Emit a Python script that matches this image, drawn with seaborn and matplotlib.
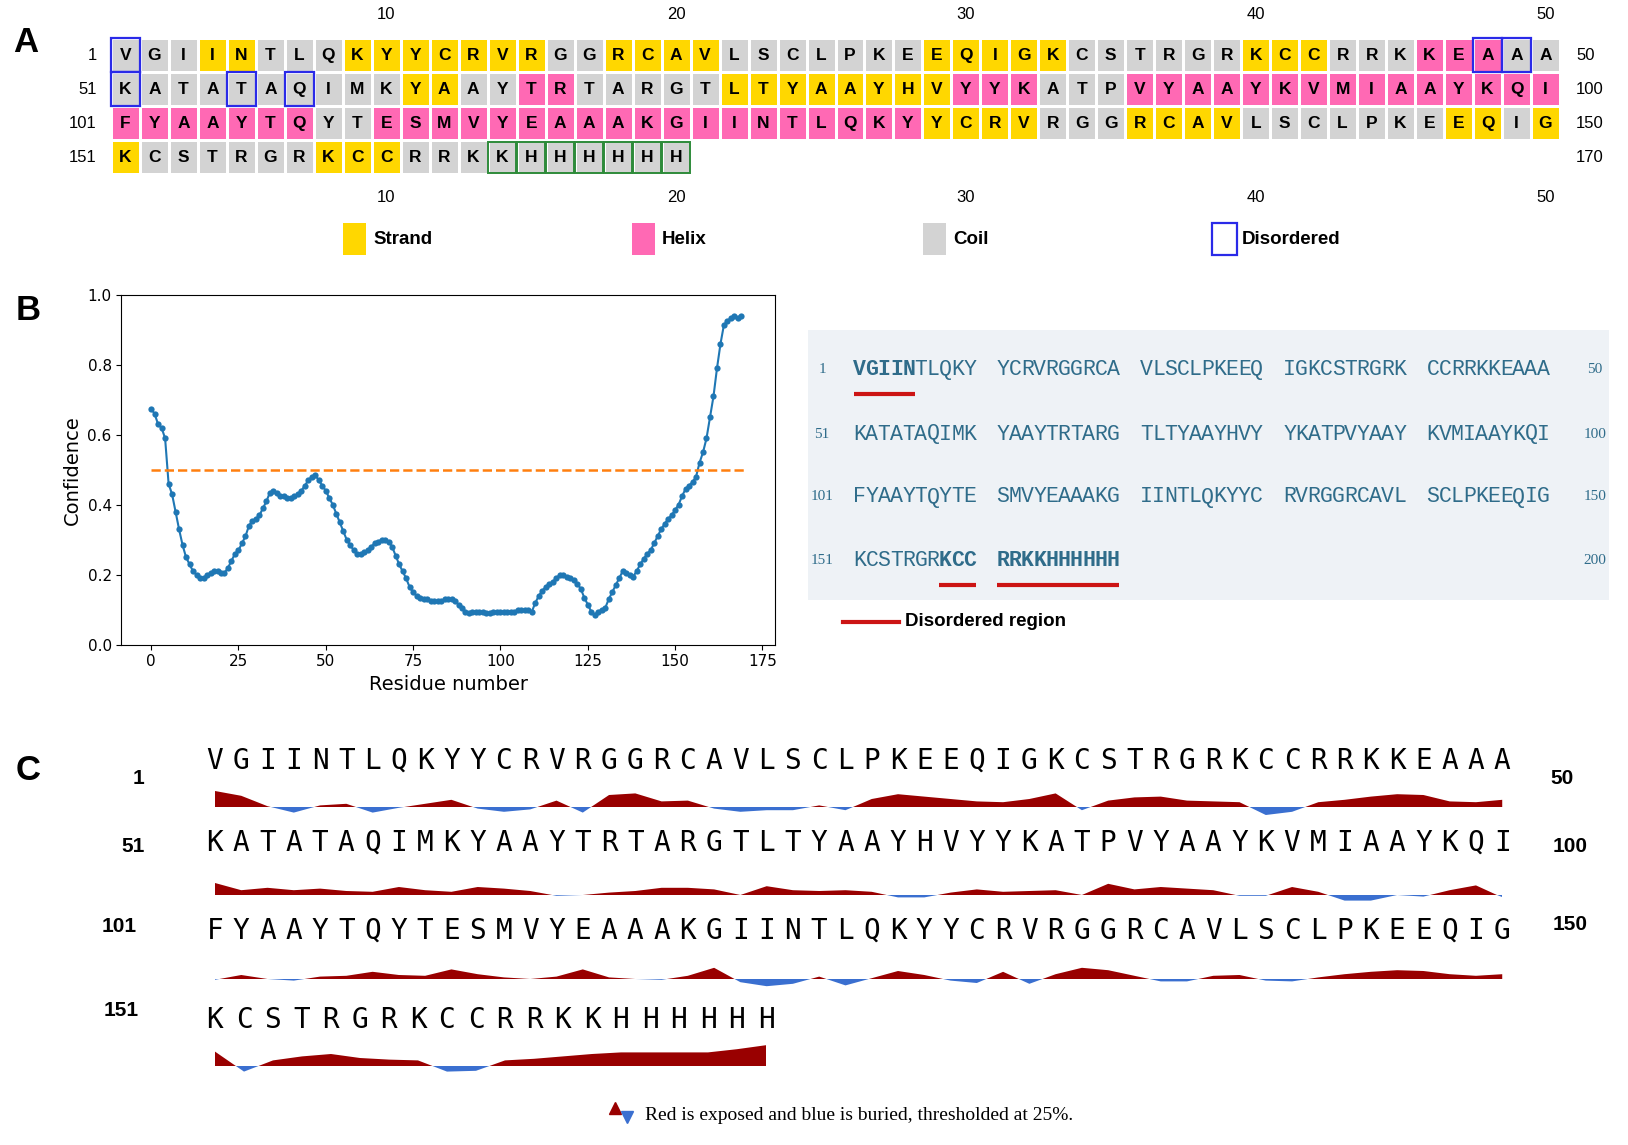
import numpy as np
import pandas as pd
import matplotlib
matplotlib.use("Agg")
import matplotlib.pyplot as plt
import seaborn as sns
from matplotlib.colors import ListedColormap
from matplotlib.patches import Rectangle

# ---------------- data ----------------
seq_rows = [
    "VGIINTLQKYYCRVRGGRCAVLSCLPKEEQIGKCSTRGRKCCRRKKEAAA",
    "KATATAQIMKYAAYTRTARGTLTYAAYHVYYKATPVYAAYKVMIAAYKQI",
    "FYAAYTQYTESMVYEAAAKGIINTLQKYYCRVRGGRCAVLSCLPKEEQIG",
    "KCSTRGRKCCRRKKHHHHHH",
]
# c = coil, s = strand, h = helix
ss_rows = [
    "cccss" "cccsssssss" "ccssss" "ccccccc" "sssss" "cccccc" "sss" "ccc" "hhh" "cc",
    "cccccccccc" "ss" "cc" "hh" "ccccc" "ssssssss" "hhh" "ccc" "hhhhhhhhhhhhhhh",
    "hhhhhhh" "cc" "hhhhhhhhhhhhhhhhhhh" "ssss" "ccc" "ssss" "ccccccc" "ss" "c" "s",
    "s" "cccccc" "sss" "cccccccccc",
]
row_start = [1, 51, 101, 151]
row_end = [50, 100, 150, 170]
disordered_pos = [1, 48, 49, 51, 55, 57]
his_tag_pos = [164, 165, 166, 167, 168, 169, 170]
col_ticks = [10, 20, 30, 40, 50]

ss_code = {"c": 0, "s": 1, "h": 2}
ss_palette = ["#D3D3D3", "#FFD700", "#FF69B4"]
legend_names = ["Strand", "Helix", "Coil", "Disordered"]
legend_colors = ["#FFD700", "#FF69B4", "#D3D3D3", None]

# disorder confidence per residue (x = 0..169)
confidence = [
    0.675, 0.66, 0.63, 0.62, 0.59, 0.46, 0.43, 0.38, 0.33, 0.285,
    0.25, 0.23, 0.21, 0.20, 0.19, 0.19, 0.20, 0.205, 0.21, 0.21,
    0.205, 0.205, 0.22, 0.24, 0.26, 0.27, 0.29, 0.31, 0.34, 0.355,
    0.36, 0.37, 0.39, 0.41, 0.435, 0.44, 0.435, 0.425, 0.425, 0.42,
    0.42, 0.425, 0.43, 0.44, 0.455, 0.47, 0.48, 0.485, 0.47, 0.455,
    0.44, 0.42, 0.40, 0.375, 0.35, 0.325, 0.30, 0.285, 0.27, 0.26,
    0.26, 0.265, 0.27, 0.28, 0.29, 0.295, 0.30, 0.30, 0.295, 0.28,
    0.255, 0.23, 0.21, 0.19, 0.165, 0.15, 0.14, 0.135, 0.13, 0.13,
    0.125, 0.125, 0.125, 0.125, 0.13, 0.13, 0.13, 0.125, 0.115, 0.105,
    0.095, 0.09, 0.095, 0.095, 0.095, 0.095, 0.09, 0.09, 0.095, 0.095,
    0.095, 0.095, 0.095, 0.095, 0.095, 0.10, 0.10, 0.10, 0.10, 0.095,
    0.12, 0.14, 0.155, 0.165, 0.175, 0.18, 0.19, 0.20, 0.20, 0.195,
    0.19, 0.185, 0.175, 0.16, 0.135, 0.115, 0.095, 0.085, 0.095, 0.10,
    0.105, 0.13, 0.15, 0.17, 0.19, 0.21, 0.205, 0.20, 0.195, 0.21,
    0.23, 0.245, 0.26, 0.27, 0.29, 0.31, 0.33, 0.345, 0.36, 0.37,
    0.385, 0.40, 0.425, 0.445, 0.455, 0.465, 0.48, 0.52, 0.55, 0.59,
    0.65, 0.71, 0.79, 0.86, 0.915, 0.925, 0.935, 0.94, 0.935, 0.94,
]
threshold = 0.5

# residues drawn bold/underlined in the sequence box
box_bold = [1, 2, 3, 4, 5, 158, 159, 160, 161, 162, 163, 164, 165, 166,
            167, 168, 169, 170]
box_left_nums = ["1", "51", "101", "151"]
box_right_nums = ["50", "100", "150", "200"]

# relative solvent exposure (positive = exposed, negative = buried)
exposure = [
    1.0, 0.7, 0.05, -0.35, 0.1, 0.2, -0.35, -0.05, 0.2, 0.45,
    -0.1, -0.3, -0.15, 0.4, -0.35, 0.75, 0.85, 0.35, 0.4, -0.1,
    -0.3, -0.2, -0.2, 0.1, -0.2, 0.5, 0.8, 0.65, 0.5, 0.35,
    0.3, 0.5, 0.85, -0.2, 0.4, 0.6, 0.65, 0.4, 0.35, 0.3,
    -0.5, -0.3, 0.3, 0.45, 0.65, 0.8, 0.75, 0.35, 0.3, 0.45,
    0.75, 0.3, 0.45, 0.3, 0.4, 0.25, 0.2, 0.5, 0.3, 0.2,
    0.5, 0.4, 0.25, -0.05, 0.0, 0.15, 0.25, 0.45, 0.45, 0.35,
    0.0, 0.55, 0.3, 0.25, 0.3, 0.2, -0.15, -0.15, 0.15, 0.35,
    0.2, 0.25, 0.3, 0.0, 0.7, 0.35, 0.5, 0.4, 0.3, -0.05,
    -0.05, 0.5, 0.2, -0.35, -0.35, 0.0, -0.1, 0.3, 0.6, -0.15,
    -0.05, 0.25, 0.0, -0.1, 0.15, 0.2, 0.45, 0.25, 0.2, 0.6,
    0.3, 0.1, 0.0, 0.15, 0.6, 0.1, 0.0, -0.05, 0.2, 0.7,
    -0.2, -0.45, -0.3, 0.15, -0.4, 0.05, 0.5, 0.25, -0.1, -0.25,
    0.45, -0.3, 0.3, 0.7, 0.55, 0.2, -0.15, -0.15, 0.2, 0.25,
    -0.1, -0.15, 0.1, 0.3, 0.45, 0.55, 0.5, 0.3, 0.2, 0.3,
    0.9, -0.35, 0.35, 0.6, 0.75, 0.5, 0.4, 0.35, -0.35, -0.3,
    0.35, 0.45, 0.6, 0.75, 0.85, 0.85, 0.85, 0.85, 1.05, 1.3,
]

for s, ss in zip(seq_rows, ss_rows):
    assert len(s) == len(ss)
full_seq = "".join(seq_rows)
assert len(exposure) == len(full_seq) == len(confidence)

# ---------------- layout (pixels) ----------------
W, H = 1628, 1145
NARROW = ["Liberation Sans Narrow", "Liberation Sans", "DejaVu Sans"]
A_X0, A_PITCH, A_Y0, A_ROWH = 111, 28.98, 38.4, 34.0

fig = plt.figure(figsize=(W / 100, H / 100), dpi=100)
bg = fig.add_axes([0, 0, 1, 1])
bg.set_xlim(0, W)
bg.set_ylim(H, 0)
bg.axis("off")

for lab, x, y in [("A", 26, 42), ("B", 28, 311), ("C", 28, 771)]:
    bg.text(x, y, lab, fontsize=25, fontweight="bold", family=NARROW,
            ha="center", va="center")

# ---------------- panel A: secondary structure grid ----------------
ncol = 50
codes = np.full((len(seq_rows), ncol), np.nan)
annot = np.full((len(seq_rows), ncol), "", dtype=object)
for r, (s, ss) in enumerate(zip(seq_rows, ss_rows)):
    for i, (aa, st) in enumerate(zip(s, ss)):
        codes[r, i] = ss_code[st]
        annot[r, i] = aa

ax_a = fig.add_axes([A_X0 / W, 1 - (A_Y0 + 4 * A_ROWH) / H,
                     ncol * A_PITCH / W, 4 * A_ROWH / H])
sns.heatmap(codes, ax=ax_a, cmap=ListedColormap(ss_palette), vmin=-0.5, vmax=2.5,
            cbar=False, annot=annot, fmt="", linewidths=2, linecolor="white",
            xticklabels=False, yticklabels=False,
            annot_kws=dict(fontsize=12.5, fontweight="bold", color="black",
                           family="Liberation Sans"))
ax_a.set_xticks([])
ax_a.set_yticks([])


def cell_of(pos):
    r = max(i for i, st in enumerate(row_start) if pos >= st)
    return r, pos - row_start[r]


for pos in disordered_pos:
    r, c = cell_of(pos)
    ax_a.add_patch(Rectangle((c, r), 1, 1, fill=False, edgecolor="#2a2ae8",
                             lw=1.6, clip_on=False, zorder=5))
for pos in his_tag_pos:
    r, c = cell_of(pos)
    ax_a.add_patch(Rectangle((c + 0.02, r + 0.04), 0.96, 0.92, fill=False,
                             edgecolor="#2e8b3a", lw=1.4, clip_on=False, zorder=5))

for r in range(len(seq_rows)):
    yc = A_Y0 + (r + 0.5) * A_ROWH
    bg.text(A_X0 - 14, yc, str(row_start[r]), ha="right", va="center",
            fontsize=12, family=NARROW)
    bg.text(A_X0 + ncol * A_PITCH + 16, yc, str(row_end[r]), ha="left",
            va="center", fontsize=12, family=NARROW)
for c in col_ticks:
    xc = A_X0 + (c - 0.5) * A_PITCH
    for yy in (14.5, 198):
        bg.text(xc, yy, str(c), ha="center", va="center", fontsize=12,
                family=NARROW)

leg_x = [343, 632, 923, 1212]
for name, x, col in zip(legend_names, leg_x, legend_colors):
    if col is None:
        bg.add_patch(Rectangle((x, 223), 25, 32, facecolor="white",
                               edgecolor="#2a2ae8", lw=1.6))
    else:
        bg.add_patch(Rectangle((x, 223), 23, 32, facecolor=col,
                               edgecolor="none"))
    bg.text(x + 30, 239, name, ha="left", va="center", fontsize=13.5,
            fontweight="bold", family=NARROW)

# ---------------- panel B: disorder confidence ----------------
ax_b = fig.add_axes([0.0746, 0.4369, 0.4012, 0.3055])
df = pd.DataFrame({"Residue number": np.arange(len(confidence)),
                   "Confidence": confidence})
sns.lineplot(data=df, x="Residue number", y="Confidence", ax=ax_b,
             color="#1f77b4", lw=1.5, marker="o", markersize=4.5,
             markeredgewidth=0)
ax_b.plot([0, len(confidence)], [threshold, threshold], ls="--",
          color="#ff7f0e", lw=1.8)
ax_b.set_ylim(0, 1)
ax_b.set_xticks(np.arange(0, 176, 25))
ax_b.set_yticks(np.arange(0, 1.01, 0.2))
ax_b.tick_params(labelsize=11)
ax_b.set_xlabel("Residue number", fontsize=14)
ax_b.set_ylabel("Confidence", fontsize=14)

# sequence box
TEAL = "#2f6c8a"
bg.add_patch(Rectangle((808, 330), 801, 270, facecolor="#eef2f6",
                       edgecolor="none", zorder=0))
BX0, BG, CW = 853.5, 143.3, 12.25
box_y = [369.6, 434, 497, 560.7]
runs = {}
for r in range(4):
    for g in range(5):
        for k in range(10):
            idx = r * 50 + g * 10 + k
            if idx >= len(full_seq):
                break
            pos = idx + 1
            x = BX0 + g * BG + (k + 0.5) * CW
            bold = pos in box_bold
            bg.text(x, box_y[r], full_seq[idx], ha="center", va="center",
                    fontsize=15.5, family="Liberation Mono", color=TEAL,
                    fontweight="bold" if bold else "normal")
            if bold:
                runs.setdefault((r, g), []).append(x)
    bg.text(822, box_y[r], box_left_nums[r], ha="center", va="center",
            fontsize=11, family="Liberation Serif", color=TEAL)
    bg.text(1595, box_y[r], box_right_nums[r], ha="center", va="center",
            fontsize=11, family="Liberation Serif", color=TEAL)
for (r, g), xs in runs.items():
    bg.plot([min(xs) - CW / 2, max(xs) + CW / 2], [box_y[r] + 24] * 2,
            color="#cc1414", lw=3, solid_capstyle="butt")
bg.plot([843, 899], [622, 622], color="#cc1414", lw=3)
bg.text(905, 622, "Disordered region", ha="left", va="center", fontsize=13.5,
        fontweight="bold", family=NARROW)

# ---------------- panel C: solvent exposure ----------------
RED, BLUE = "#990000", "#3a6fd0"
c_x0 = 215
c_pitch = [26.27, 26.27, 26.27, 29.0]
c_text_y = [761, 843, 931, 1019.6]
c_base_y = [807, 895, 979, 1066]
EXP_SCALE = 16
for r in range(4):
    s0 = row_start[r] - 1
    s1 = row_end[r]
    xs = c_x0 + np.arange(s1 - s0) * c_pitch[r]
    for x, aa in zip(xs, full_seq[s0:s1]):
        bg.text(x, c_text_y[r], aa, ha="center", va="center", fontsize=20,
                family="DejaVu Sans Mono")
    v = np.array(exposure[s0:s1])
    base = c_base_y[r]
    bg.fill_between(xs, base, base - v * EXP_SCALE, where=v >= 0,
                    interpolate=True, color=RED, lw=0)
    bg.fill_between(xs, base, base - v * EXP_SCALE, where=v <= 0,
                    interpolate=True, color=BLUE, lw=0)

for lab, x, y in [("1", 138, 779), ("51", 133, 847), ("101", 119, 926),
                  ("151", 121, 1010), ("50", 1562, 779), ("100", 1570, 847),
                  ("150", 1570, 924)]:
    bg.text(x, y, lab, ha="center", va="center", fontsize=15,
            fontweight="bold", family=NARROW)

bg.plot(615, 1108, marker="^", color=RED, ms=8, ls="none")
bg.plot(627, 1117, marker="v", color=BLUE, ms=8, ls="none")
bg.text(645, 1116, "Red is exposed and blue is buried, thresholded at 25%.",
        ha="left", va="center", fontsize=14, family="Liberation Serif")

fig.savefig("out.png", dpi=100)
